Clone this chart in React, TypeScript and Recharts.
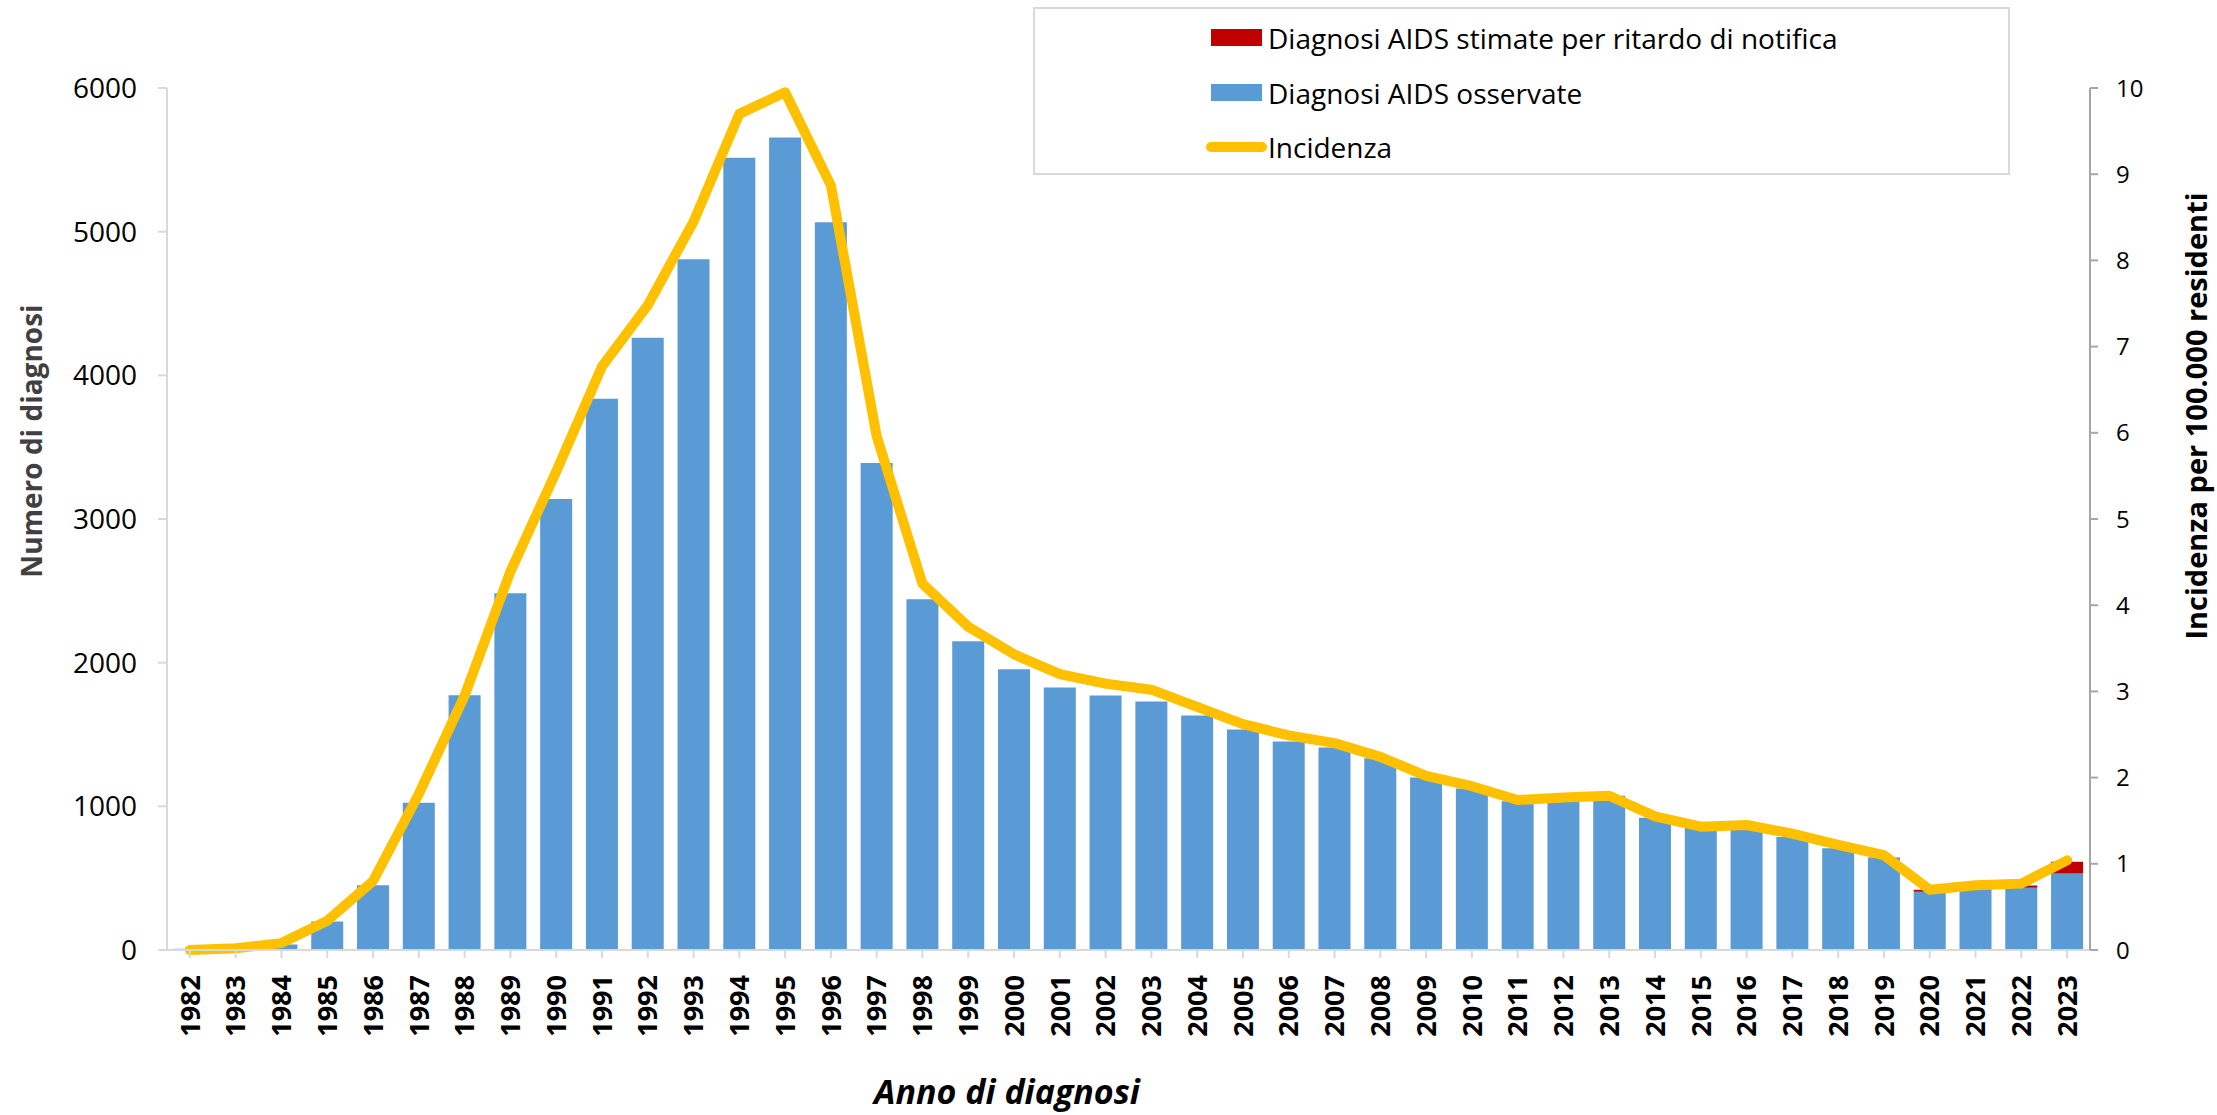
import { ComposedChart, Bar, Line, XAxis, YAxis, Label } from "recharts";

const years = [
  "1982", "1983", "1984", "1985", "1986", "1987", "1988", "1989", "1990", "1991",
  "1992", "1993", "1994", "1995", "1996", "1997", "1998", "1999", "2000", "2001",
  "2002", "2003", "2004", "2005", "2006", "2007", "2008", "2009", "2010", "2011",
  "2012", "2013", "2014", "2015", "2016", "2017", "2018", "2019", "2020", "2021",
  "2022", "2023",
];

// diagnosi osservate
const observed = [
  8, 12, 38, 198, 450, 1025, 1773, 2484, 3140, 3837,
  4262, 4808, 5515, 5655, 5065, 3390, 2442, 2149, 1954, 1828,
  1772, 1730, 1633, 1535, 1451, 1409, 1335, 1200, 1125, 1035,
  1045, 1074, 921, 849, 855, 786, 709, 642, 405, 425,
  433, 533,
];

// diagnosi stimate per ritardo di notifica
const estimated = [
  0, 0, 0, 0, 0, 0, 0, 0, 0, 0,
  0, 0, 0, 0, 0, 0, 0, 0, 0, 0,
  0, 0, 0, 0, 0, 0, 0, 0, 0, 0,
  0, 0, 0, 0, 0, 0, 0, 2, 14, 14,
  16, 81,
];

// incidenza per 100.000 residenti
const incidence = [
  0.0, 0.02, 0.08, 0.34, 0.8, 1.81, 2.95, 4.39, 5.55, 6.77,
  7.48, 8.45, 9.7, 9.95, 8.87, 5.96, 4.25, 3.75, 3.43, 3.2,
  3.09, 3.02, 2.82, 2.62, 2.49, 2.4, 2.24, 2.02, 1.9, 1.74,
  1.77, 1.79, 1.55, 1.43, 1.45, 1.35, 1.22, 1.1, 0.7, 0.75,
  0.77, 1.04,
];

const leftTicks = [0, 1000, 2000, 3000, 4000, 5000, 6000];
const rightTicks = [0, 1, 2, 3, 4, 5, 6, 7, 8, 9, 10];

const data = years.map((year, i) => ({
  year,
  observed: observed[i],
  estimated: estimated[i],
  incidence: incidence[i],
}));

const FONT = "'Open Sans', sans-serif";
const BLUE = "#5b9bd5";
const RED = "#c00000";
const YELLOW = "#ffc000";

function YearTick(props: any) {
  const { x, y, payload } = props;
  return (
    <g transform={`translate(${x},${y})`}>
      <text
        transform="rotate(-90)"
        textAnchor="end"
        dy="0.36em"
        fontFamily={FONT}
        fontWeight={700}
        fontSize={27}
        fill="#000"
      >
        {payload.value}
      </text>
    </g>
  );
}

function LegendBox() {
  const rows = [
    { label: "Diagnosi AIDS stimate per ritardo di notifica", color: RED, type: "rect", cy: 29 },
    { label: "Diagnosi AIDS osservate", color: BLUE, type: "rect", cy: 84 },
    { label: "Incidenza", color: YELLOW, type: "line", cy: 138 },
  ];
  return (
    <div
      style={{
        position: "absolute",
        left: 1033,
        top: 7,
        width: 977,
        height: 168,
        border: "2px solid #d9d9d9",
        boxSizing: "border-box",
        background: "#fff",
        fontFamily: FONT,
        fontSize: 28,
        color: "#000",
      }}
    >
      {rows.map((r) => (
        <div key={r.label}>
          {r.type === "rect" ? (
            <div
              style={{
                position: "absolute",
                left: 176,
                top: r.cy - 9,
                width: 51,
                height: 17,
                background: r.color,
              }}
            />
          ) : (
            <div
              style={{
                position: "absolute",
                left: 171,
                top: r.cy - 5,
                width: 61,
                height: 10,
                borderRadius: 5,
                background: r.color,
              }}
            />
          )}
          <div
            style={{
              position: "absolute",
              left: 233,
              top: r.cy,
              transform: "translateY(-50%)",
              whiteSpace: "nowrap",
              lineHeight: 1,
            }}
          >
            {r.label}
          </div>
        </div>
      ))}
    </div>
  );
}

export default function App() {
  return (
    <div style={{ position: "relative", width: 2217, height: 1115, background: "#fff" }}>
      <style>{`body{margin:0}`}</style>
      <ComposedChart
        width={2217}
        height={1115}
        data={data}
        margin={{ top: 88, right: 0, bottom: 0, left: 0 }}
        barCategoryGap="15%"
      >
        <XAxis
          dataKey="year"
          interval={0}
          height={165}
          tickSize={8}
          tickMargin={17}
          tick={<YearTick />}
          axisLine={{ stroke: "#d9d9d9", strokeWidth: 2 }}
          tickLine={{ stroke: "#d9d9d9", strokeWidth: 2 }}
        >
          <Label
            content={() => (
              <text
                x={1007}
                y={1104}
                textAnchor="middle"
                fontFamily={FONT}
                fontWeight={700}
                fontStyle="italic"
                fontSize={34}
                fill="#000"
              >
                Anno di diagnosi
              </text>
            )}
          />
        </XAxis>
        <YAxis
          yAxisId="left"
          orientation="left"
          width={167}
          domain={[0, 6000]}
          ticks={leftTicks}
          interval={0}
          tickSize={9}
          tickMargin={21}
          tick={{ fontFamily: FONT, fontSize: 28, fill: "#000" }}
          axisLine={{ stroke: "#d9d9d9", strokeWidth: 2 }}
          tickLine={{ stroke: "#d9d9d9", strokeWidth: 2 }}
        >
          <Label
            content={() => (
              <text
                transform="translate(42,441) rotate(-90)"
                textAnchor="middle"
                fontFamily={FONT}
                fontWeight={700}
                fontSize={28}
                fill="#404040"
              >
                Numero di diagnosi
              </text>
            )}
          />
        </YAxis>
        <YAxis
          yAxisId="right"
          orientation="right"
          width={127}
          domain={[0, 10]}
          ticks={rightTicks}
          interval={0}
          tickSize={8}
          tickMargin={18}
          tick={{ fontFamily: FONT, fontSize: 24, fill: "#000" }}
          axisLine={{ stroke: "#a6a6a6", strokeWidth: 2 }}
          tickLine={{ stroke: "#a6a6a6", strokeWidth: 2 }}
        >
          <Label
            content={() => (
              <text
                transform="translate(2207,416) rotate(-90)"
                textAnchor="middle"
                fontFamily={FONT}
                fontWeight={700}
                fontSize={29}
                fill="#000"
              >
                Incidenza per 100.000 residenti
              </text>
            )}
          />
        </YAxis>
        <Bar yAxisId="left" dataKey="observed" stackId="a" fill={BLUE} isAnimationActive={false} />
        <Bar yAxisId="left" dataKey="estimated" stackId="a" fill={RED} isAnimationActive={false} />
        <Line
          yAxisId="right"
          type="linear"
          dataKey="incidence"
          stroke={YELLOW}
          strokeWidth={10}
          strokeLinecap="round"
          strokeLinejoin="round"
          dot={false}
          activeDot={false}
          isAnimationActive={false}
        />
      </ComposedChart>
      <LegendBox />
    </div>
  );
}
